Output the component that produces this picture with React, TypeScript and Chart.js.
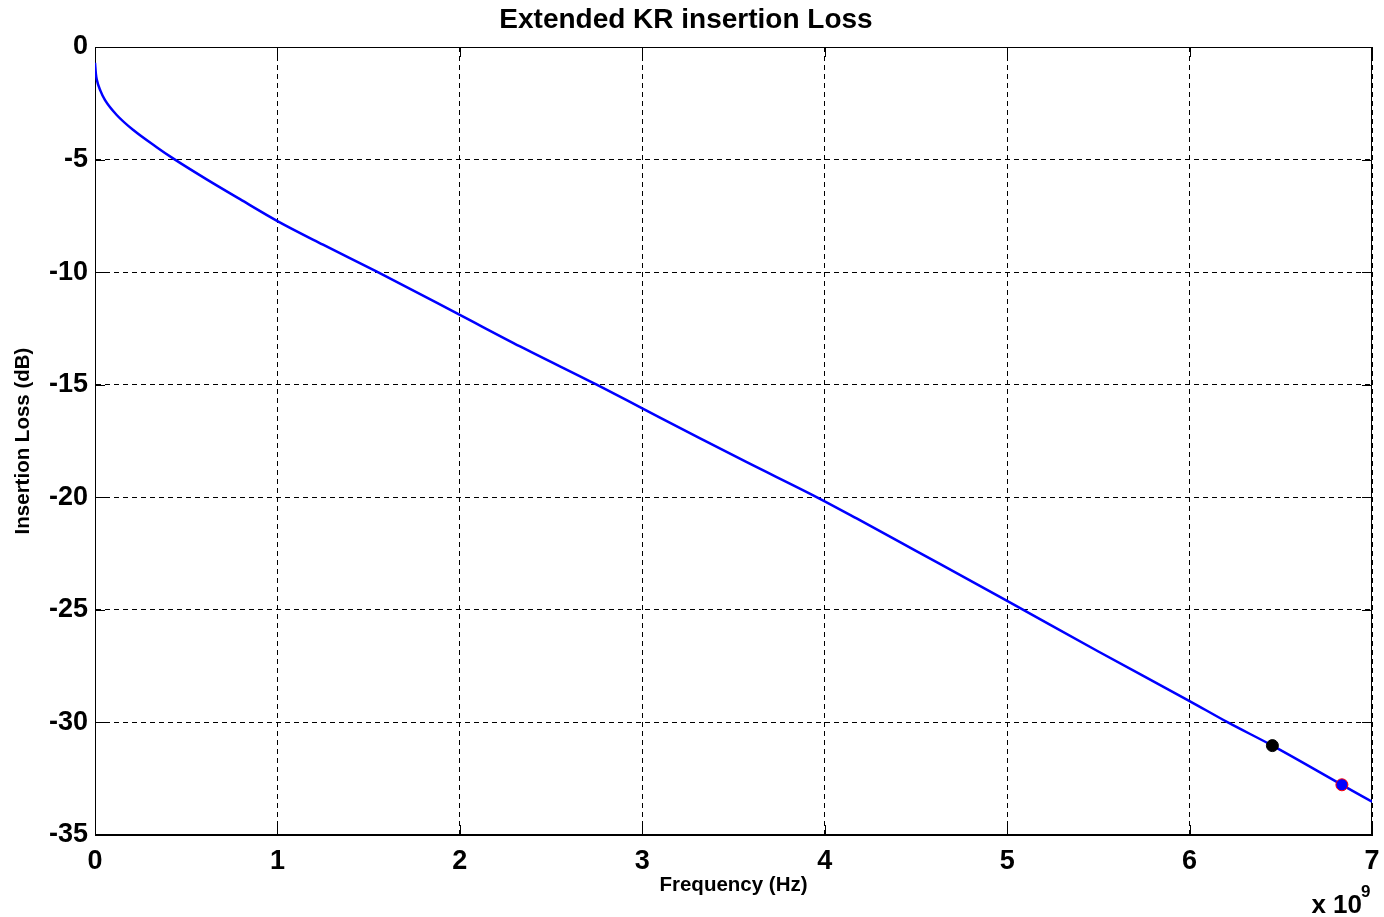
import React, { useEffect, useRef } from "react";
import { Chart, registerables } from "chart.js";

Chart.register(...registerables);

// Frequency in GHz (axis shown with "x 10^9" multiplier)
const freqGHz = [0, 0.005, 0.01, 0.03, 0.055, 0.119, 0.21, 0.338, 0.43, 0.612, 0.795, 1.0, 1.25, 1.545, 2.0, 2.33, 2.75, 3.0, 3.317, 3.57, 3.958, 4.175, 4.5, 5.0, 5.5, 6.0, 6.21, 6.454, 6.835, 7.0];
const lossDb = [-0.7, -1.2, -1.45, -1.95, -2.36, -3.02, -3.69, -4.45, -4.96, -5.88, -6.76, -7.73, -8.78, -9.98, -11.9, -13.3, -15.0, -16.05, -17.38, -18.43, -20.0, -20.94, -22.38, -24.6, -26.85, -29.05, -30.0, -31.03, -32.77, -33.52];

const markerBlackX = [6.454];
const markerBlackY = [-31.03];
const markerBlueX = [6.835];
const markerBlueY = [-32.77];

const xTickValues = [0, 1, 2, 3, 4, 5, 6, 7];
const yTickValues = [-35, -30, -25, -20, -15, -10, -5, 0];

const titleText = "Extended KR insertion Loss";
const xTitle = "Frequency (Hz)";
const yTitle = "Insertion Loss (dB)";
const FONT = "'Liberation Sans', Arial, Helvetica, sans-serif";

const framePlugin = {
  id: "matlabFrame",
  beforeDatasetsDraw(chart: any) {
    const { ctx, chartArea, scales } = chart;
    const { left, right, top, bottom } = chartArea;
    ctx.save();
    ctx.strokeStyle = "#000";
    ctx.lineWidth = 1;
    ctx.setLineDash([]);
    ctx.strokeRect(left + 0.5, top + 0.5, right - left - 1, bottom - top - 1);
    const tl = 10;
    ctx.beginPath();
    xTickValues.forEach((v) => {
      const px = Math.round(scales.x.getPixelForValue(v)) + 0.5;
      ctx.moveTo(px, bottom);
      ctx.lineTo(px, bottom - tl);
      ctx.moveTo(px, top);
      ctx.lineTo(px, top + tl);
    });
    yTickValues.forEach((v) => {
      const py = Math.round(scales.y.getPixelForValue(v)) + 0.5;
      ctx.moveTo(left, py);
      ctx.lineTo(left + tl, py);
      ctx.moveTo(right, py);
      ctx.lineTo(right - tl, py);
    });
    ctx.stroke();
    ctx.restore();
  },
  afterDraw(chart: any) {
    const { ctx, chartArea } = chart;
    ctx.save();
    ctx.fillStyle = "#000";
    ctx.font = `bold 26px ${FONT}`;
    ctx.textAlign = "right";
    ctx.textBaseline = "alphabetic";
    ctx.fillText("x 10", chartArea.right - 10, 913);
    ctx.font = `bold 17px ${FONT}`;
    ctx.textAlign = "left";
    ctx.fillText("9", chartArea.right - 11, 897);
    ctx.restore();
  },
};

export default function App() {
  const canvasRef = useRef<HTMLCanvasElement | null>(null);

  useEffect(() => {
    document.body.style.margin = "0";
    const canvas = canvasRef.current;
    if (!canvas) return;
    const chart = new Chart(canvas, {
      type: "line",
      data: {
        datasets: [
          {
            label: "Insertion Loss",
            data: freqGHz.map((f, i) => ({ x: f, y: lossDb[i] })),
            borderColor: "#0000ff",
            borderWidth: 2.5,
            pointRadius: 0,
            cubicInterpolationMode: "monotone",
            fill: false,
            order: 2,
          },
          {
            label: "Marker A",
            data: markerBlackX.map((f, i) => ({ x: f, y: markerBlackY[i] })),
            showLine: false,
            pointRadius: 6,
            pointBackgroundColor: "#000000",
            pointBorderColor: "#000000",
            pointBorderWidth: 1,
            order: 1,
          },
          {
            label: "Marker B",
            data: markerBlueX.map((f, i) => ({ x: f, y: markerBlueY[i] })),
            showLine: false,
            pointRadius: 6,
            pointBackgroundColor: "#0000ff",
            pointBorderColor: "#ff0000",
            pointBorderWidth: 1,
            order: 0,
          },
        ],
      } as any,
      options: {
        responsive: false,
        animation: false,
        layout: { padding: { left: 0, right: 12, top: 0, bottom: 0 } },
        plugins: {
          legend: { display: false },
          tooltip: { enabled: false },
          title: {
            display: true,
            text: titleText,
            color: "#000",
            font: { family: FONT, size: 28, weight: "bold", lineHeight: 1.2 },
            padding: { top: 3.2, bottom: 10.2 },
          },
        },
        scales: {
          x: {
            type: "linear",
            min: 0,
            max: 7,
            afterFit: (scale: any) => {
              scale.height = 82;
              scale.paddingRight = 0;
              scale.paddingLeft = 0;
            },
            afterBuildTicks: (scale: any) => {
              scale.ticks = xTickValues.map((v) => ({ value: v }));
            },
            ticks: {
              color: "#000",
              font: { family: FONT, size: 27, weight: "bold" },
              padding: 10,
              maxRotation: 0,
              callback: (v: any) => String(v),
            },
            grid: { color: "#000", lineWidth: 1, drawTicks: false },
            border: { display: true, color: "#000", width: 1, dash: [5, 4] },
            title: {
              display: true,
              text: xTitle,
              color: "#000",
              font: { family: FONT, size: 20.5, weight: "bold", lineHeight: 1.2 },
              padding: { top: 0, bottom: 19 },
            },
          },
          y: {
            type: "linear",
            min: -35,
            max: 0,
            afterFit: (scale: any) => {
              scale.width = 95;
            },
            afterBuildTicks: (scale: any) => {
              scale.ticks = yTickValues.map((v) => ({ value: v }));
            },
            ticks: {
              color: "#000",
              font: { family: FONT, size: 27, weight: "bold" },
              padding: 7,
              callback: (v: any) => String(v),
            },
            grid: { color: "#000", lineWidth: 1, drawTicks: false },
            border: { display: true, color: "#000", width: 1, dash: [5, 4] },
            title: {
              display: true,
              text: yTitle,
              color: "#000",
              font: { family: FONT, size: 20.5, weight: "bold", lineHeight: 1.2 },
              padding: { top: 11, bottom: 0 },
            },
          },
        },
      } as any,
      plugins: [framePlugin],
    });
    return () => chart.destroy();
  }, []);

  return (
    <canvas
      ref={canvasRef}
      width={1384}
      height={917}
      style={{ display: "block", position: "absolute", left: 0, top: 0, background: "#fff" }}
    />
  );
}
